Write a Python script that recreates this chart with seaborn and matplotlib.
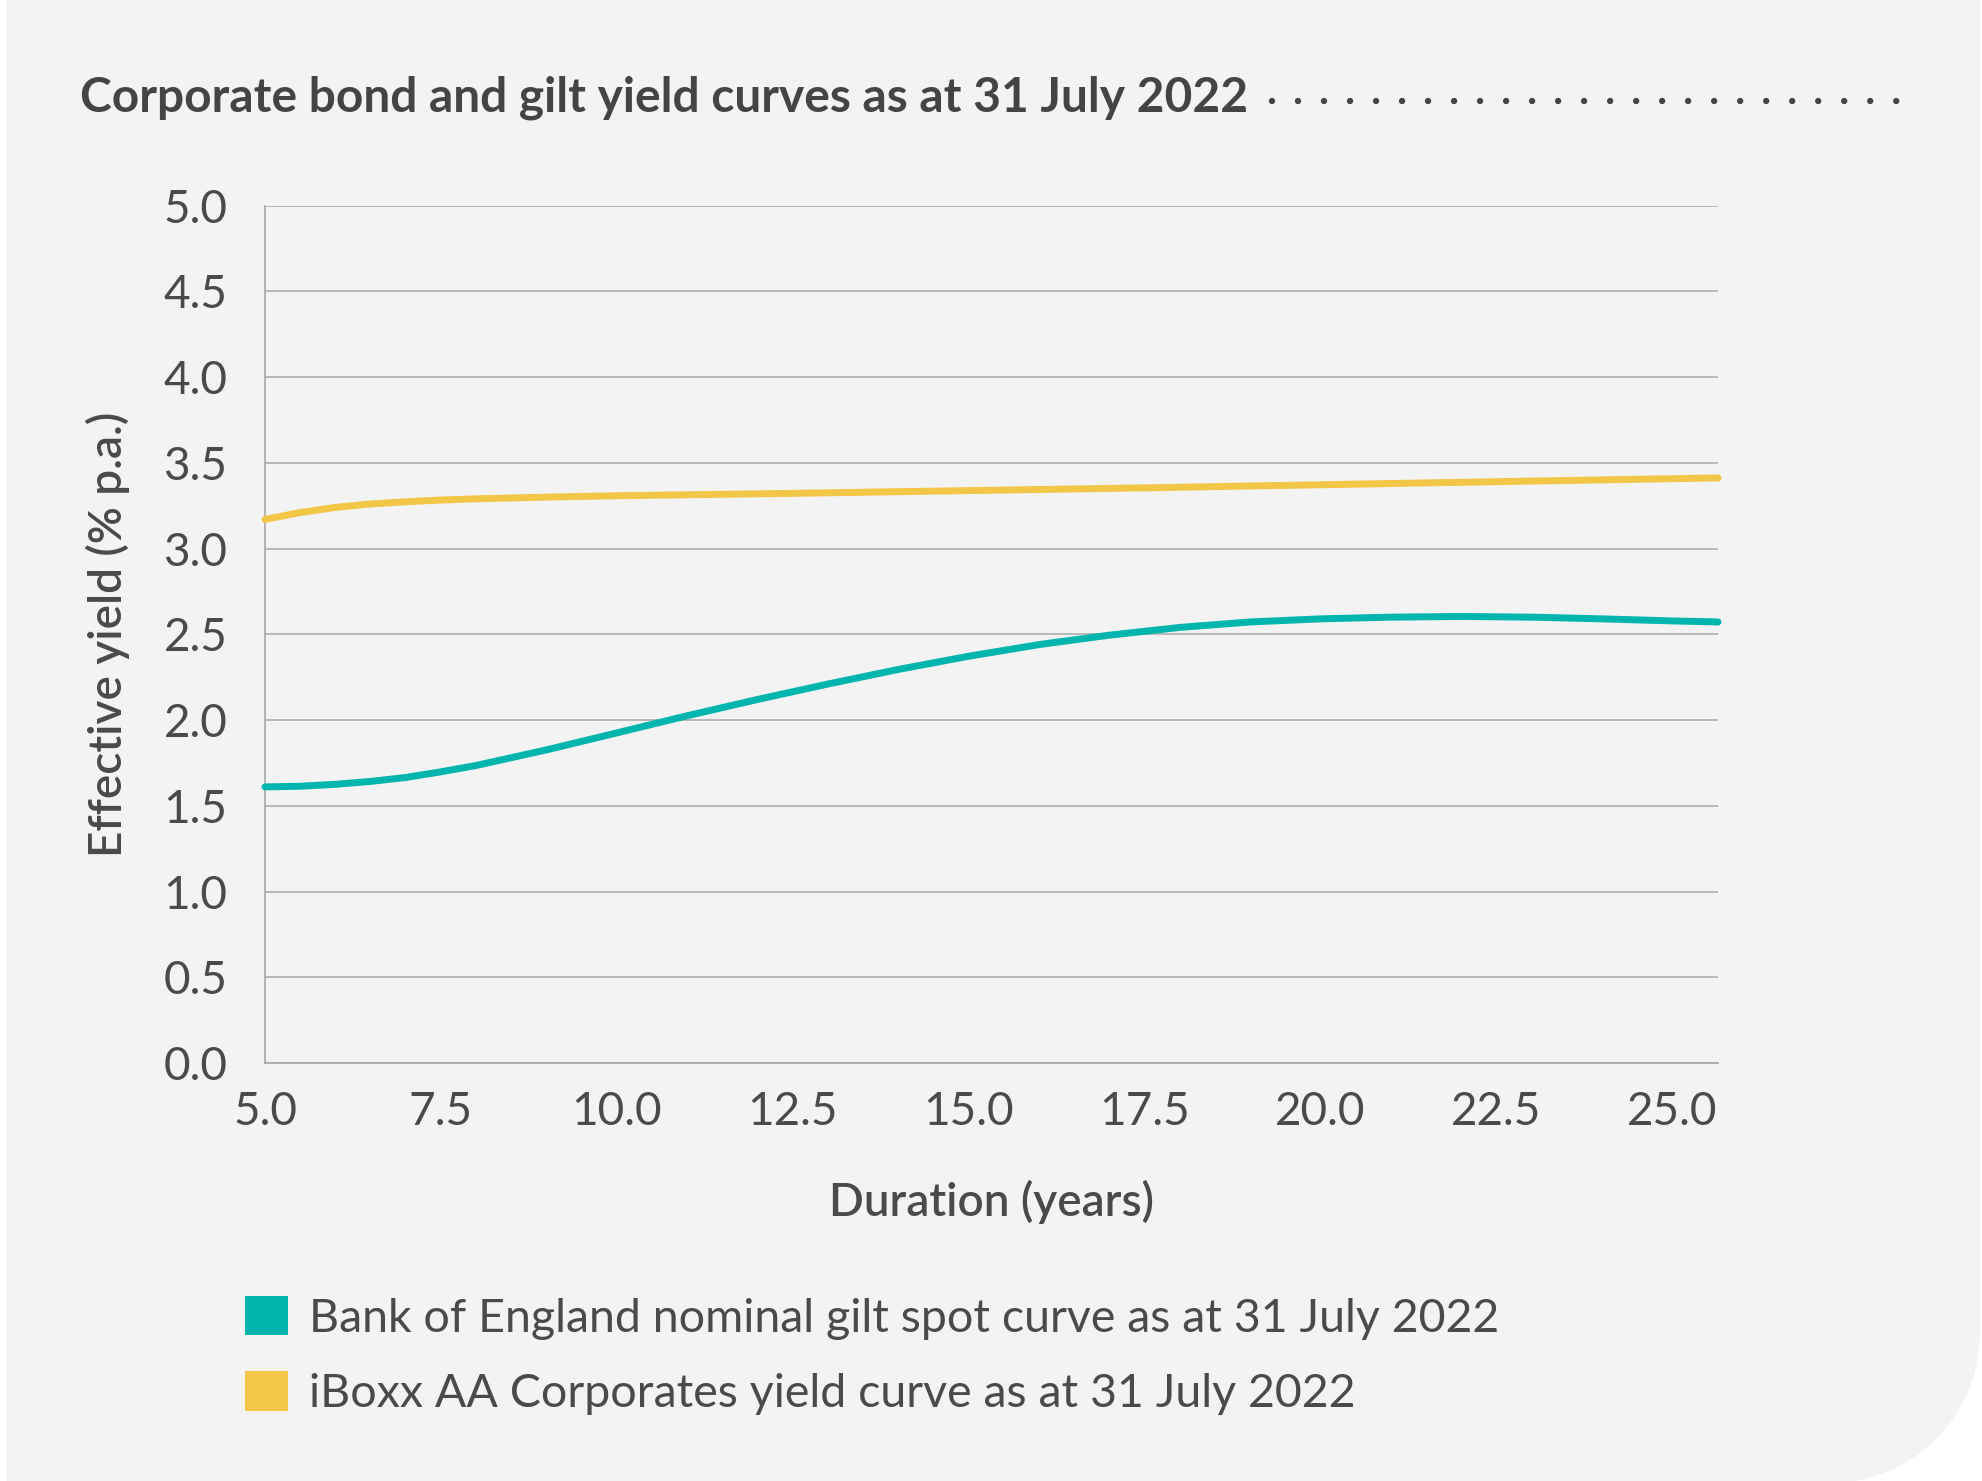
import numpy as np
import pandas as pd
import matplotlib
matplotlib.use("Agg")
import matplotlib.pyplot as plt
from matplotlib.patches import Polygon, Patch
from matplotlib.lines import Line2D
import seaborn as sns

# ---------------- data ----------------
gilt_duration = [5.0, 5.5, 6.0, 6.5, 7.0, 7.5, 8.0, 9.0, 10.0, 11.0, 12.0, 13.0, 14.0, 15.0,
                 16.0, 17.0, 18.0, 19.0, 20.0, 21.0, 22.0, 23.0, 24.0, 25.0, 25.65]
gilt_yield = [1.61, 1.614, 1.625, 1.642, 1.665, 1.698, 1.735, 1.826, 1.925, 2.025, 2.12,
              2.21, 2.295, 2.372, 2.44, 2.495, 2.54, 2.572, 2.59, 2.60, 2.604, 2.60,
              2.59, 2.578, 2.572]

corp_duration = [5.0, 5.5, 6.0, 6.5, 7.0, 7.5, 8.0, 9.0, 10.0, 12.5, 15.0, 17.5, 20.0,
                 22.5, 25.65]
corp_yield = [3.17, 3.21, 3.24, 3.26, 3.273, 3.283, 3.29, 3.30, 3.308, 3.322, 3.338,
              3.354, 3.372, 3.39, 3.412]

series_names = ["Bank of England nominal gilt spot curve as at 31 July 2022",
                "iBoxx AA Corporates yield curve as at 31 July 2022"]
series_colors = ["#00B5AD", "#F2C646"]

x_ticks = [5.0, 7.5, 10.0, 12.5, 15.0, 17.5, 20.0, 22.5, 25.0]
y_ticks = [0.0, 0.5, 1.0, 1.5, 2.0, 2.5, 3.0, 3.5, 4.0, 4.5, 5.0]

title_text = "Corporate bond and gilt yield curves as at 31 July 2022"
x_label = "Duration (years)"
y_label = "Effective yield (% p.a.)"

df = pd.concat([
    pd.DataFrame({"duration": gilt_duration, "yield": gilt_yield, "series": series_names[0]}),
    pd.DataFrame({"duration": corp_duration, "yield": corp_yield, "series": series_names[1]}),
], ignore_index=True)

# ---------------- style ----------------
sns.set_style("white")
plt.rcParams["font.family"] = ["Lato", "DejaVu Sans"]
TEXT = "#4A4A4A"
GRID = "#A8A8A8"
BG = "#F3F3F3"

W, H = 1982, 1481
fig = plt.figure(figsize=(W / 100, H / 100), dpi=100)
fig.patch.set_facecolor("white")

# card background with rounded bottom-right corner
cx, cy, r = 1830.0, 148.0, 150.0
ang = np.linspace(0, -np.pi / 2, 40)
arc = np.column_stack([cx + r * np.cos(ang), cy + r * np.sin(ang)])
pts = np.vstack([[[6, H + 5], [1980, H + 5], [1980, cy]], arc, [[6, -5]]])
pts = pts / np.array([W, H])
fig.patches.append(Polygon(pts, closed=True, transform=fig.transFigure,
                           facecolor=BG, edgecolor="none", zorder=-5))

ax = fig.add_axes([265 / W, 1 - 1063 / H, (1718 - 265) / W, (1063 - 205.6) / H])
ax.set_zorder(2)
ax.patch.set_visible(False)

sns.lineplot(data=df, x="duration", y="yield", hue="series", palette=series_colors,
             hue_order=series_names, estimator=None, sort=True, linewidth=5.0,
             ax=ax, legend=False)
for ln in ax.get_lines():
    ln.set_solid_capstyle("round")
    ln.set_solid_joinstyle("round")
    ln.set_zorder(3)
    ln.set_clip_on(False)

ax.set_xlim(5.0, 25.65)
ax.set_ylim(0, 5.0)
ax.set_xticks(x_ticks)
ax.set_xticklabels([f"{v:.1f}" for v in x_ticks])
ax.set_yticks(y_ticks)
ax.set_yticklabels([f"{v:.1f}" for v in y_ticks])
ax.yaxis.grid(True, color=GRID, linewidth=1.1)
ax.xaxis.grid(False)
ax.set_axisbelow(True)
for s in ["top", "right"]:
    ax.spines[s].set_visible(False)
for s in ["left", "bottom"]:
    ax.spines[s].set_color(GRID)
    ax.spines[s].set_linewidth(1.2)
ax.tick_params(axis="both", length=0, labelsize=33, labelcolor=TEXT)
ax.tick_params(axis="y", pad=27)
ax.tick_params(axis="x", pad=20)
for lab in ax.get_xticklabels():
    lab.set_x(lab.get_position()[0])

ax.set_xlabel(x_label, fontsize=33, color=TEXT, labelpad=34, fontweight="semibold")
ax.set_ylabel(y_label, fontsize=33, color=TEXT, labelpad=24, fontweight="semibold")

# title + dotted leader
fig.text(80 / W, 1 - 112 / H, title_text, fontsize=34.5, fontweight="bold", color="#444444",
         ha="left", va="baseline")
fig.lines.append(Line2D([1272 / W, 1900 / W], [1 - 101 / H, 1 - 101 / H],
                        transform=fig.transFigure, color="#444444", linewidth=4.6,
                        linestyle=(0, (0.001, 4.07)), dash_capstyle="round"))

# legend
handles = [Patch(facecolor=c, edgecolor="none") for c in series_colors]
leg = fig.legend(handles, series_names, loc="upper left",
                 bbox_to_anchor=(245 / W, 1 - 1296 / H), frameon=False,
                 handlelength=0.92, handleheight=0.92, handletextpad=0.45,
                 labelspacing=0.68, borderpad=0, borderaxespad=0, labelcolor=TEXT,
                 prop={"size": 33.5})

fig.savefig("out.png", dpi=100, facecolor=fig.get_facecolor())
